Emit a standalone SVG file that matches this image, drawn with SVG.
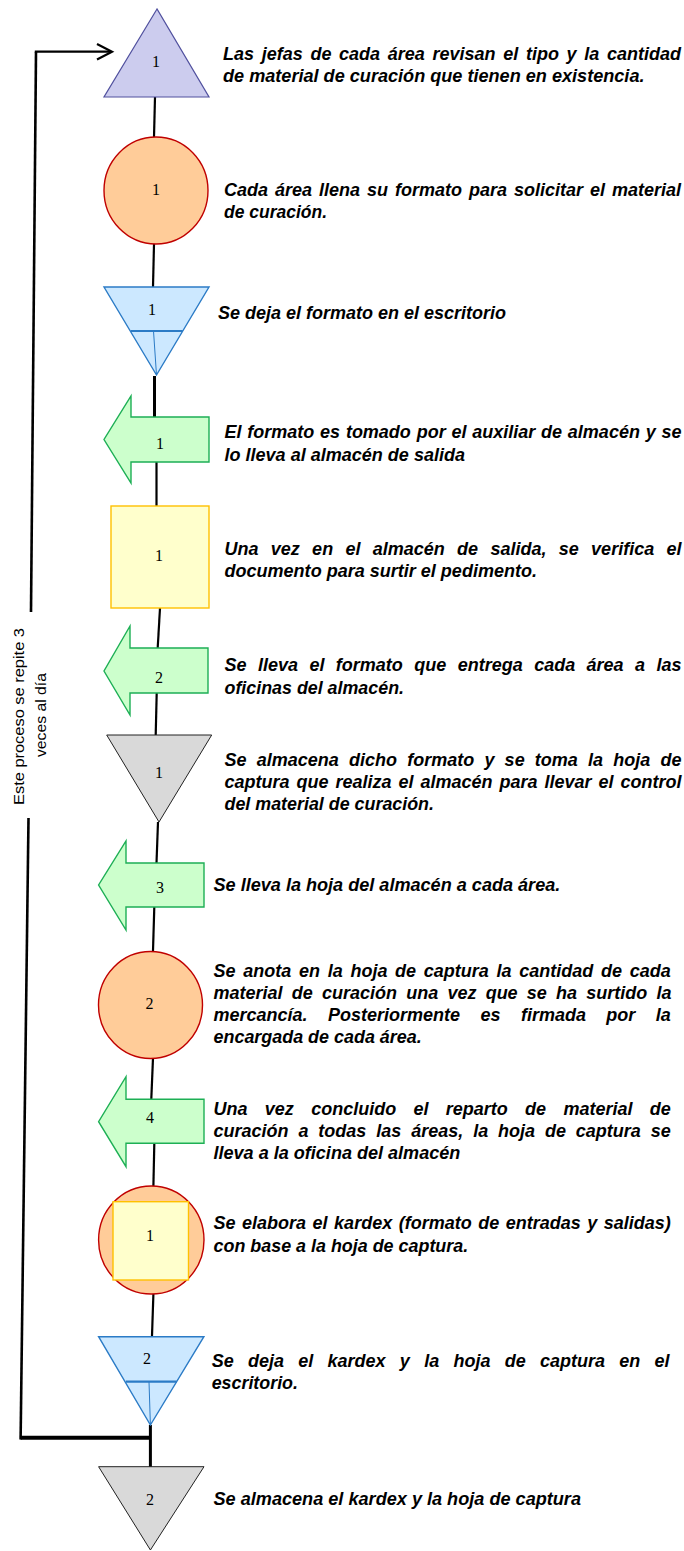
<svg xmlns="http://www.w3.org/2000/svg" width="684" height="1551" viewBox="0 0 684 1551">
<defs>
<style>
.t{font-family:"Liberation Sans",Arial,sans-serif;font-weight:bold;font-style:italic;font-size:18px;fill:#000}
.n{font-family:"Liberation Serif","Times New Roman",serif;font-size:16px;fill:#000;text-anchor:middle}
.v{font-family:"Liberation Sans",Arial,sans-serif;font-size:15.5px;fill:#000;text-anchor:middle}
.c{stroke:#000;stroke-width:2.2;fill:none}
.purple{fill:#CCCCEE;stroke:#50509E;stroke-width:1.2}
.circ{fill:#FFCC99;stroke:#C00000;stroke-width:1.4}
.blue{fill:#CCE8FF;stroke:#2B7BC6;stroke-width:1.4}
.green{fill:#CCFFCC;stroke:#1DAF55;stroke-width:1.4}
.yellow{fill:#FFFFCC;stroke:#FFC000;stroke-width:1.4}
.gray{fill:#D9D9D9;stroke:#222;stroke-width:1}
</style>
</defs>
<rect width="684" height="1551" fill="#fff"/>
<g id="connectors">
<line class="c" x1="155" y1="97" x2="154" y2="137"/>
<line class="c" x1="154" y1="244" x2="153" y2="287"/>
<line class="c" x1="154.5" y1="376" x2="154.5" y2="417" style="stroke-width:3"/>
<line class="c" x1="156.5" y1="462" x2="156.5" y2="506"/>
<line class="c" x1="160" y1="608" x2="157.7" y2="648"/>
<line class="c" x1="156.7" y1="693" x2="155.7" y2="735"/>
<line class="c" x1="158" y1="822" x2="156.5" y2="863"/>
<line class="c" x1="154.3" y1="907" x2="153" y2="951"/>
<line class="c" x1="153" y1="1058" x2="151.3" y2="1099"/>
<line class="c" x1="154.3" y1="1144" x2="153.4" y2="1186"/>
<line class="c" x1="153.4" y1="1294" x2="152" y2="1336"/>
<line class="c" x1="150.4" y1="1425" x2="150.4" y2="1467" style="stroke-width:3"/>
<polyline class="c" points="150.4,1437.7 20.6,1437.7" style="stroke-width:4"/>
<line class="c" x1="20.6" y1="1439.5" x2="28.5" y2="818" style="stroke-width:2.6"/>
<line class="c" x1="31" y1="612" x2="36" y2="51.7" style="stroke-width:2.6"/>
<line class="c" x1="34.8" y1="51.7" x2="111" y2="51.7"/>
<polyline class="c" points="97,44 112,51.7 97,59.5"/>
</g>
<g id="n1"><polygon class="purple" points="157,9 104,97 209,97"/><text class="n" x="156" y="67">1</text></g>
<g id="n2"><ellipse class="circ" cx="156" cy="190.5" rx="52" ry="53.5"/><text class="n" x="156" y="194.5">1</text></g>
<g id="n3"><polygon class="blue" points="104,287 209,287 156.5,375"/><line x1="130.6" y1="331" x2="182.8" y2="331" stroke="#2B7BC6" stroke-width="2.2"/><line x1="153.5" y1="331" x2="156.5" y2="375" stroke="#2B7BC6" stroke-width="1"/><text class="n" x="152" y="315">1</text></g>
<g id="n4"><path class="green" d="M209,417 L131,417 L131,396 L104,439.5 L131,483 L131,462 L209,462 Z"/><text class="n" x="160" y="448.5">1</text></g>
<g id="n5"><rect class="yellow" x="111" y="506" width="98" height="102"/><text class="n" x="159" y="560.5">1</text></g>
<g id="n6"><path class="green" d="M208,648 L130,648 L130,626 L104,671 L130,715 L130,693 L208,693 Z"/><text class="n" x="159" y="682.5">2</text></g>
<g id="n7"><polygon class="gray" points="106.7,735 211.7,735 159,822"/><text class="n" x="159" y="777.5">1</text></g>
<g id="n8"><path class="green" d="M204,863 L126,863 L126,841 L98.6,885 L126,930 L126,907 L204,907 Z"/><text class="n" x="160" y="892.5">3</text></g>
<g id="n9"><ellipse class="circ" cx="150.5" cy="1005" rx="52" ry="53.5"/><text class="n" x="149.5" y="1009">2</text></g>
<g id="n10"><path class="green" d="M204,1099.3 L126,1099.3 L126,1076.7 L98.6,1121.7 L126,1166.7 L126,1143.3 L204,1143.3 Z"/><text class="n" x="150" y="1122.5">4</text></g>
<g id="n11"><ellipse class="circ" cx="151.3" cy="1240" rx="52.7" ry="54"/><rect class="yellow" x="113" y="1201.7" width="75.5" height="78.3"/><text class="n" x="150" y="1240.5">1</text></g>
<g id="n12"><polygon class="blue" points="98.6,1336.7 203.9,1336.7 150.4,1425"/><line x1="125.8" y1="1381.7" x2="176.7" y2="1381.7" stroke="#2B7BC6" stroke-width="2.2"/><line x1="149" y1="1381.7" x2="150.4" y2="1425" stroke="#2B7BC6" stroke-width="1"/><text class="n" x="147" y="1363.5">2</text></g>
<g id="n13"><polygon class="gray" points="98.6,1466.7 204,1466.7 150.4,1550"/><text class="n" x="150" y="1504.5">2</text></g>
<g id="loop-label">
<text class="v" transform="translate(23.5,716.5) rotate(-90)" textLength="177" lengthAdjust="spacingAndGlyphs">Este proceso se repite 3</text>
<text class="v" transform="translate(46,715) rotate(-90)" textLength="84" lengthAdjust="spacingAndGlyphs">veces al día</text>
</g>
<g id="texts">
<text class="t" x="223" y="60" word-spacing="2.7" textLength="458" lengthAdjust="spacing">Las jefas de cada área revisan el tipo y la cantidad</text>
<text class="t" x="223" y="82" textLength="421.5" lengthAdjust="spacingAndGlyphs">de material de curación que tienen en existencia.</text>
<text class="t" x="224" y="196" word-spacing="2" textLength="457" lengthAdjust="spacing">Cada área llena su formato para solicitar el material</text>
<text class="t" x="224" y="218" textLength="103" lengthAdjust="spacingAndGlyphs">de curación.</text>
<text class="t" x="218" y="319" textLength="288" lengthAdjust="spacingAndGlyphs">Se deja el formato en el escritorio</text>
<text class="t" x="224.5" y="438" word-spacing="0.8" textLength="457" lengthAdjust="spacing">El formato es tomado por el auxiliar de almacén y se</text>
<text class="t" x="224.5" y="461" textLength="240.5" lengthAdjust="spacingAndGlyphs">lo lleva al almacén de salida</text>
<text class="t" x="224.5" y="555" word-spacing="7.3" textLength="457" lengthAdjust="spacing">Una vez en el almacén de salida, se verifica el</text>
<text class="t" x="224.5" y="577" textLength="312.5" lengthAdjust="spacingAndGlyphs">documento para surtir el pedimento.</text>
<text class="t" x="224.5" y="671" word-spacing="6.4" textLength="457" lengthAdjust="spacing">Se lleva el formato que entrega cada área a las</text>
<text class="t" x="224.5" y="694" textLength="179.5" lengthAdjust="spacingAndGlyphs">oficinas del almacén.</text>
<text class="t" x="224.5" y="766" word-spacing="5.2" textLength="457" lengthAdjust="spacing">Se almacena dicho formato y se toma la hoja de</text>
<text class="t" x="224.5" y="788" word-spacing="2" textLength="457" lengthAdjust="spacing">captura que realiza el almacén para llevar el control</text>
<text class="t" x="224.5" y="810" textLength="209.5" lengthAdjust="spacingAndGlyphs">del material de curación.</text>
<text class="t" x="213.5" y="891" textLength="346.8" lengthAdjust="spacingAndGlyphs">Se lleva la hoja del almacén a cada área.</text>
<text class="t" x="213.5" y="977" word-spacing="2.7" textLength="457.3" lengthAdjust="spacing">Se anota en la hoja de captura la cantidad de cada</text>
<text class="t" x="213.5" y="999" word-spacing="4.2" textLength="458" lengthAdjust="spacing">material de curación una vez que se ha surtido la</text>
<text class="t" x="213.5" y="1021" word-spacing="15.4" textLength="457.3" lengthAdjust="spacing">mercancía. Posteriormente es firmada por la</text>
<text class="t" x="213.5" y="1043" textLength="208.2" lengthAdjust="spacingAndGlyphs">encargada de cada área.</text>
<text class="t" x="213.5" y="1115" word-spacing="12.3" textLength="457.3" lengthAdjust="spacing">Una vez concluido el reparto de material de</text>
<text class="t" x="213.5" y="1137" word-spacing="4.9" textLength="457.3" lengthAdjust="spacing">curación a todas las áreas, la hoja de captura se</text>
<text class="t" x="213.5" y="1159" textLength="246.8" lengthAdjust="spacingAndGlyphs">lleva a la oficina del almacén</text>
<text class="t" x="213.5" y="1229" word-spacing="1.5" textLength="457.3" lengthAdjust="spacing">Se elabora el kardex (formato de entradas y salidas)</text>
<text class="t" x="213.5" y="1252" textLength="254.7" lengthAdjust="spacingAndGlyphs">con base a la hoja de captura.</text>
<text class="t" x="211.7" y="1367" word-spacing="9.3" textLength="457.8" lengthAdjust="spacing">Se deja el kardex y la hoja de captura en el</text>
<text class="t" x="211.7" y="1389" textLength="86.3" lengthAdjust="spacingAndGlyphs">escritorio.</text>
<text class="t" x="213.5" y="1505" textLength="367.5" lengthAdjust="spacingAndGlyphs">Se almacena el kardex y la hoja de captura</text>
</g>
</svg>
